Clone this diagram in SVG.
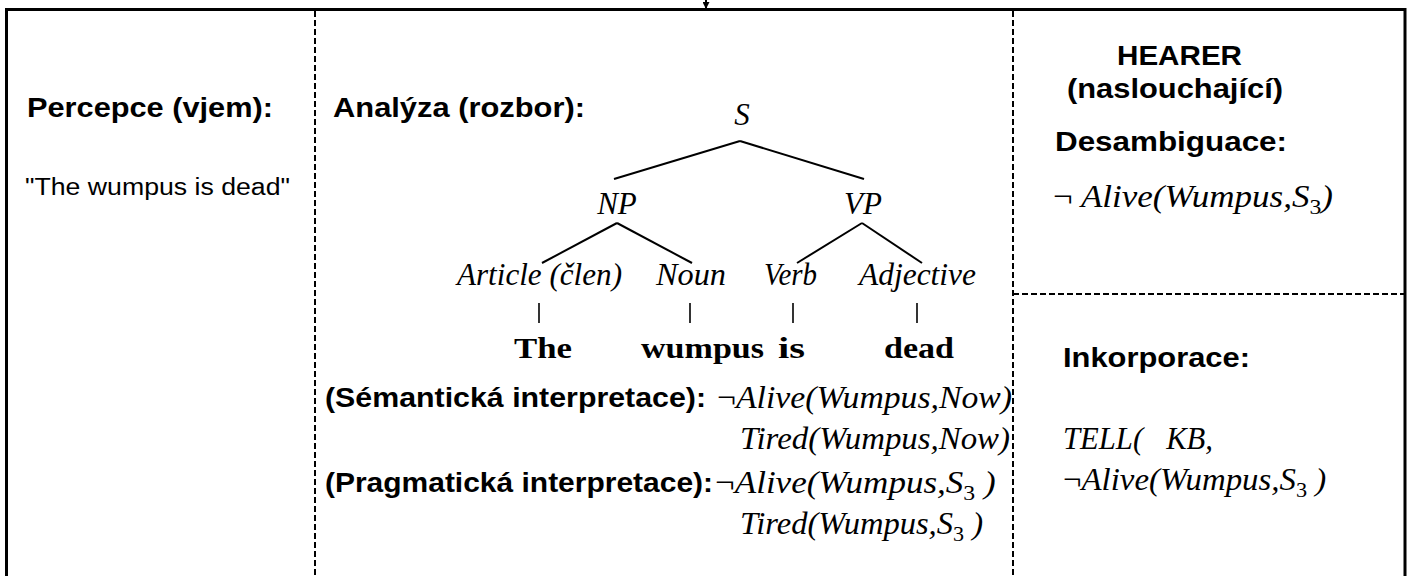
<svg xmlns="http://www.w3.org/2000/svg" width="1410" height="576" viewBox="0 0 1410 576">
  <style>
    .frame { fill: none; stroke: #000; stroke-width: 3; }
    .divider { fill: none; stroke: #000; stroke-width: 2; stroke-dasharray: 6 3; }
    .head { font-family: "Liberation Sans", Arial, sans-serif; font-weight: bold; font-size: 28px; fill: #000; }
    .plain { font-family: "Liberation Sans", Arial, sans-serif; font-size: 23px; fill: #000; }
    .cat { font-family: "Liberation Serif", "Times New Roman", serif; font-style: italic; font-size: 31px; fill: #000; }
    .word { font-family: "Liberation Serif", "Times New Roman", serif; font-weight: bold; font-size: 30px; fill: #000; }
    .logic { font-family: "Liberation Serif", "Times New Roman", serif; font-style: italic; font-size: 31px; fill: #000; }
    .neg { font-style: normal; }
    .sub { font-size: 21px; font-style: normal; }
    .edge { stroke: #000; stroke-width: 2; fill: none; }
    .tick { stroke: #000; stroke-width: 1.6; fill: none; }
  </style>
  <defs>
    <marker id="arrowhead" viewBox="0 0 10 10" refX="10" refY="5" markerWidth="9" markerHeight="7" orient="auto" markerUnits="userSpaceOnUse">
      <path d="M0,0 L10,5 L0,10 Z" fill="#000"/>
    </marker>
  </defs>

  <rect width="1410" height="576" fill="#fff"/>

  <!-- outer frame (open at the bottom edge) and panel dividers -->
  <g id="frame">
    <rect class="frame" x="6.5" y="9.5" width="1398.5" height="600"/>
    <line class="divider" x1="315" y1="11" x2="315" y2="576"/>
    <line class="divider" x1="1013" y1="11" x2="1013" y2="576"/>
    <line class="divider" x1="1013" y1="294" x2="1404" y2="294"/>
  </g>

  <!-- perception panel -->
  <g id="perception">
    <text class="head" x="27" y="117" textLength="246" lengthAdjust="spacingAndGlyphs">Percepce (vjem):</text>
    <text class="plain" x="25" y="195" textLength="265" lengthAdjust="spacingAndGlyphs">"The wumpus is dead"</text>
  </g>

  <!-- analysis panel -->
  <g id="analysis">
    <text class="head" x="333" y="117" textLength="252" lengthAdjust="spacingAndGlyphs">Analýza (rozbor):</text>
  </g>

  <!-- parse tree nodes -->
  <g id="node-S"><text class="cat" x="742" y="125" text-anchor="middle">S</text></g>
  <g id="node-NP"><text class="cat" x="617" y="214" text-anchor="middle">NP</text></g>
  <g id="node-VP"><text class="cat" x="863" y="214" text-anchor="middle">VP</text></g>
  <g id="node-article"><text class="cat" x="457" y="285" textLength="165" lengthAdjust="spacingAndGlyphs">Article (člen)</text></g>
  <g id="node-noun"><text class="cat" x="656" y="285" textLength="70" lengthAdjust="spacingAndGlyphs">Noun</text></g>
  <g id="node-verb"><text class="cat" x="764" y="285" textLength="53" lengthAdjust="spacingAndGlyphs">Verb</text></g>
  <g id="node-adjective"><text class="cat" x="859" y="285" textLength="117" lengthAdjust="spacingAndGlyphs">Adjective</text></g>
  <g id="word-the"><text class="word" x="514" y="358" textLength="58" lengthAdjust="spacingAndGlyphs">The</text></g>
  <g id="word-wumpus"><text class="word" x="641" y="358" textLength="123" lengthAdjust="spacingAndGlyphs">wumpus</text></g>
  <g id="word-is"><text class="word" x="778" y="358" textLength="27" lengthAdjust="spacingAndGlyphs">is</text></g>
  <g id="word-dead"><text class="word" x="884" y="358" textLength="70" lengthAdjust="spacingAndGlyphs">dead</text></g>

  <!-- semantic interpretation -->
  <g id="semantic">
    <text class="head" x="325" y="407" textLength="381" lengthAdjust="spacingAndGlyphs">(Sémantická interpretace):</text>
    <text class="logic" x="717" y="408" textLength="295" lengthAdjust="spacingAndGlyphs"><tspan class="neg">¬</tspan>Alive(Wumpus,Now)</text>
    <text class="logic" x="740" y="449" textLength="270" lengthAdjust="spacingAndGlyphs">Tired(Wumpus,Now)</text>
  </g>

  <!-- pragmatic interpretation -->
  <g id="pragmatic">
    <text class="head" x="325" y="492" textLength="388" lengthAdjust="spacingAndGlyphs">(Pragmatická interpretace):</text>
    <text class="logic" transform="translate(715,493) scale(1.13,1)"><tspan class="neg">¬</tspan>Alive(Wumpus,S<tspan class="sub" dy="7">3</tspan><tspan dy="-7"> )</tspan></text>
    <text class="logic" transform="translate(740,534) scale(1.05,1)">Tired(Wumpus,S<tspan class="sub" dy="7">3</tspan><tspan dy="-7"> )</tspan></text>
  </g>

  <!-- hearer: disambiguation -->
  <g id="disambiguation">
    <text class="head" x="1117" y="65" font-size="29" textLength="125" lengthAdjust="spacingAndGlyphs">HEARER</text>
    <text class="head" x="1067" y="98" font-size="29" textLength="216" lengthAdjust="spacingAndGlyphs">(naslouchající)</text>
    <text class="head" x="1055" y="151" textLength="232" lengthAdjust="spacingAndGlyphs">Desambiguace:</text>
    <text class="logic" transform="translate(1053,207) scale(1.13,1)"><tspan class="neg">¬</tspan> Alive(Wumpus,S<tspan class="sub" dy="7">3</tspan><tspan dy="-7">)</tspan></text>
  </g>

  <!-- hearer: incorporation -->
  <g id="incorporation">
    <text class="head" x="1063" y="367" textLength="187" lengthAdjust="spacingAndGlyphs">Inkorporace:</text>
    <text class="logic" x="1063" y="449" textLength="150" lengthAdjust="spacingAndGlyphs" xml:space="preserve">TELL(   KB,</text>
    <text class="logic" transform="translate(1063,490) scale(1.06,1)"><tspan class="neg">¬</tspan>Alive(Wumpus,S<tspan class="sub" dy="7">3</tspan><tspan dy="-7"> )</tspan></text>
  </g>

  <!-- tree branches, leaf ticks and the incoming arrow -->
  <g id="connectors">
    <line class="edge" x1="740" y1="141" x2="614" y2="179"/>
    <line class="edge" x1="740" y1="141" x2="864" y2="179"/>
    <line class="edge" x1="617" y1="223" x2="542" y2="263"/>
    <line class="edge" x1="617" y1="223" x2="692" y2="263"/>
    <line class="edge" x1="862" y1="223" x2="797" y2="263"/>
    <line class="edge" x1="862" y1="223" x2="922" y2="263"/>
    <line class="tick" x1="539" y1="303" x2="539" y2="323"/>
    <line class="tick" x1="690" y1="303" x2="690" y2="323"/>
    <line class="tick" x1="793" y1="303" x2="793" y2="323"/>
    <line class="tick" x1="917" y1="303" x2="917" y2="323"/>
    <line class="edge" x1="706" y1="-20" x2="706" y2="9" marker-end="url(#arrowhead)"/>
  </g>
</svg>
